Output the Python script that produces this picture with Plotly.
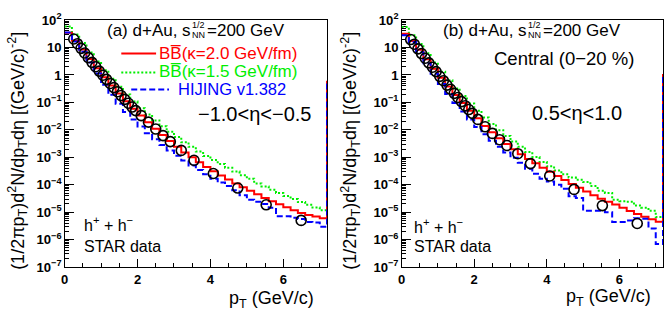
import plotly.graph_objects as go

W, H = 664, 317

# ---------------- data ----------------
pt_data = [0.25, 0.35, 0.45, 0.55, 0.65, 0.75, 0.85, 0.95, 1.05, 1.15,
           1.25, 1.35, 1.45, 1.55, 1.65, 1.75, 1.85, 1.95, 2.1, 2.3,
           2.5, 2.7, 2.9, 3.2, 3.55, 4.08, 4.75, 5.53, 6.49]

star_a = [2.04e1, 1.38e1, 9.33, 6.31, 4.27, 2.88, 2.00, 1.38, 9.77e-1, 6.92e-1,
          4.90e-1, 3.47e-1, 2.45e-1, 1.78e-1, 1.29e-1, 9.33e-2, 6.76e-2, 5.01e-2, 3.31e-2, 1.91e-2,
          1.07e-2, 6.17e-3, 3.72e-3, 1.78e-3, 7.76e-4, 2.57e-4, 7.59e-5, 1.86e-5, 5.01e-6]

star_b = [1.95e1, 1.32e1, 8.91, 6.03, 4.07, 2.75, 1.91, 1.32, 8.91e-1, 6.17e-1,
          4.27e-1, 3.02e-1, 2.14e-1, 1.51e-1, 1.07e-1, 7.59e-2, 5.50e-2, 3.98e-2, 2.40e-2, 1.29e-2,
          7.41e-3, 4.37e-3, 2.69e-3, 1.35e-3, 5.89e-4, 2.09e-4, 6.76e-5, 1.74e-5, 3.89e-6]

# histogram bin edges of the model curves (0 .. 7.2 GeV/c, 0.2 wide)
bin_edges = [round(0.2 * i, 1) for i in range(37)]

bbar20_a = [34.7, 17.8, 8.51, 3.80, 1.74, 8.32e-1, 4.17e-1, 2.09e-1, 1.10e-1, 5.89e-2,
            3.31e-2, 1.91e-2, 1.10e-2, 6.46e-3, 3.89e-3, 2.40e-3, 1.51e-3, 1.00e-3, 6.61e-4, 4.47e-4,
            3.09e-4, 2.19e-4, 1.55e-4, 1.12e-4, 8.13e-5, 6.03e-5, 4.47e-5, 3.31e-5, 2.51e-5, 1.95e-5,
            1.51e-5, 1.17e-5, 9.33e-6, 7.94e-6, 6.92e-6, 6.03e-6]
bbar15_a = [58.9, 29.5, 14.5, 6.61, 3.09, 1.48, 7.24e-1, 3.72e-1, 1.95e-1, 1.07e-1,
            6.17e-2, 3.63e-2, 2.19e-2, 1.35e-2, 8.51e-3, 5.50e-3, 3.55e-3, 2.40e-3, 1.62e-3, 1.12e-3,
            7.94e-4, 5.75e-4, 4.17e-4, 3.02e-4, 2.24e-4, 1.66e-4, 1.12e-4, 8.71e-5, 6.61e-5, 5.01e-5,
            3.89e-5, 3.02e-5, 2.34e-5, 1.86e-5, 1.48e-5, 1.17e-5]
hijing_a = [35.5, 16.6, 7.08, 2.82, 1.12, 4.37e-1, 1.91e-1, 8.91e-2, 4.47e-2, 2.40e-2,
            1.32e-2, 7.59e-3, 4.57e-3, 2.82e-3, 1.78e-3, 1.15e-3, 7.59e-4, 5.01e-4, 3.47e-4, 2.40e-4,
            1.66e-4, 1.20e-4, 8.91e-5, 6.31e-5, 4.17e-5, 2.82e-5, 2.40e-5, 2.00e-5, 1.45e-5, 7.08e-6,
            7.08e-6, 6.31e-6, 5.62e-6, 4.37e-6, 4.17e-6, 2.95e-6]

bbar20_b = [31.6, 17.4, 8.32, 3.72, 1.70, 7.94e-1, 3.80e-1, 1.86e-1, 9.55e-2, 5.01e-2,
            2.63e-2, 1.38e-2, 8.13e-3, 4.90e-3, 3.02e-3, 1.95e-3, 1.29e-3, 8.71e-4, 6.03e-4, 4.17e-4,
            2.95e-4, 2.09e-4, 1.48e-4, 1.07e-4, 7.76e-5, 5.62e-5, 4.17e-5, 3.09e-5, 2.40e-5, 1.91e-5,
            1.45e-5, 1.10e-5, 8.51e-6, 6.76e-6, 5.50e-6, 4.47e-6]
bbar15_b = [56.2, 28.2, 13.5, 6.17, 2.82, 1.32, 6.46e-1, 3.24e-1, 1.70e-1, 9.12e-2,
            5.01e-2, 2.82e-2, 1.62e-2, 9.77e-3, 6.03e-3, 3.80e-3, 2.40e-3, 1.55e-3, 1.02e-3, 6.76e-4,
            4.68e-4, 3.31e-4, 2.40e-4, 1.82e-4, 1.51e-4, 1.26e-4, 8.91e-5, 6.03e-5, 5.01e-5, 2.82e-5,
            2.51e-5, 2.40e-5, 1.74e-5, 1.45e-5, 1.12e-5, 6.61e-6]
hijing_b = [28.2, 15.8, 6.76, 2.69, 1.10, 4.68e-1, 2.04e-1, 9.55e-2, 4.68e-2, 2.40e-2,
            1.26e-2, 6.92e-3, 3.98e-3, 2.40e-3, 1.48e-3, 9.55e-4, 6.31e-4, 3.80e-4, 2.51e-4, 1.66e-4,
            1.32e-4, 1.00e-4, 7.08e-5, 3.80e-5, 3.31e-5, 1.12e-5, 1.12e-5, 1.12e-5, 1.00e-5, 4.37e-6,
            4.37e-6, 5.01e-6, 6.03e-6, 5.75e-6, 2.57e-6, 6.92e-7]

# content of the bin just past the plotted range (only its rising edge is visible)
overflow_a = 0.56
overflow_b = 1.0

x_range = [0, 7.2]
y_range_log = [-7, 2]

# ---------------- styling ----------------
FONT = "Liberation Sans"
RED, GREEN, BLUE = "#ff0000", "#00ee00", "#0000ff"

def px(x):
    return x / W

def py(y):
    return 1 - y / H

fig = go.Figure()

def add_hist(vals, overflow, color, dash, xa, ya):
    xs = bin_edges + [bin_edges[-1] + 0.2]
    ys = list(vals) + [overflow, overflow]
    fig.add_trace(go.Scatter(x=xs, y=ys, mode="lines", line_shape="hv",
                             line=dict(color=color, width=2, dash=dash),
                             xaxis=xa, yaxis=ya, showlegend=False, hoverinfo="skip"))

def add_data(vals, xa, ya):
    fig.add_trace(go.Scatter(x=pt_data, y=vals, mode="markers",
                             marker=dict(symbol="circle-open", size=10, color="black",
                                         line=dict(width=1.6, color="black")),
                             xaxis=xa, yaxis=ya, showlegend=False))

DOT = "2px,2px"
DASH = "6px,3px"
for (g, r, b, d, ovf, xa, ya) in [(bbar15_a, bbar20_a, hijing_a, star_a, overflow_a, "x", "y"),
                                  (bbar15_b, bbar20_b, hijing_b, star_b, overflow_b, "x2", "y2")]:
    add_hist(g, ovf, GREEN, DOT, xa, ya)
    add_hist(r, ovf, RED, "solid", xa, ya)
    add_hist(b, ovf, BLUE, DASH, xa, ya)
    add_data(d, xa, ya)

xaxis_common = dict(range=x_range, showline=True, mirror=True, linecolor="black", linewidth=1,
                    ticks="inside", ticklen=8, tickcolor="black", dtick=2, tick0=0,
                    showgrid=False, zeroline=False,
                    tickfont=dict(family=FONT, size=13, color="black", weight="bold"),
                    minor=dict(ticks="inside", ticklen=4, dtick=0.5, tickcolor="black", showgrid=False),
                    layer="below traces")
yaxis_common = dict(type="log", range=y_range_log, showline=True, mirror=True, linecolor="black",
                    linewidth=1, ticks="inside", ticklen=9, tickcolor="black", dtick=1,
                    exponentformat="power", showgrid=False, zeroline=False,
                    tickfont=dict(family=FONT, size=10.5, color="black", weight="bold"),
                    minor=dict(ticks="inside", ticklen=4, dtick="D1", tickcolor="black", showgrid=False),
                    layer="below traces")

ydom = [py(272.7), py(11.7)]
fig.update_layout(
    width=W, height=H, margin=dict(l=0, r=0, t=0, b=0),
    paper_bgcolor="white", plot_bgcolor="white",
    xaxis=dict(domain=[px(61), px(325)], anchor="y", **xaxis_common),
    yaxis=dict(domain=ydom, anchor="x", **yaxis_common),
    xaxis2=dict(domain=[px(400), px(663)], anchor="y2", **xaxis_common),
    yaxis2=dict(domain=ydom, anchor="x2", **yaxis_common),
    showlegend=False,
)

anns = []

def ann(text, x, y, size=17, color="black", xanchor="left", angle=0):
    anns.append(dict(text=text, x=px(x), y=py(y), xref="paper", yref="paper",
                     xanchor=xanchor, yanchor="middle", showarrow=False, textangle=angle,
                     borderpad=0, font=dict(family=FONT, size=size, color=color)))

ytitle = "(1/2πp<sub>T</sub>)d<sup>2</sup>N/dp<sub>T</sub>dη [(GeV/c)<sup>-2</sup>]"
xtitle = "p<sub>T</sub> (GeV/c)"
BB = "BB\u0305"

# panel (a)
ann(ytitle, 14, 150, size=18, xanchor="center", angle=-90)
ann(xtitle, 313, 307, size=18, xanchor="right")
ann("(a) d+Au, s", 189, 23, size=17, xanchor="right")
ann("1/2", 188, 17, size=9)
ann("NN", 188, 28, size=9)
ann("=200 GeV", 203, 23, size=17)
ann(BB + "(κ=2.0 GeV/fm)", 155, 47, size=17, color=RED)
ann(BB + "(κ=1.5 GeV/fm)", 155, 66, size=17, color=GREEN)
ann("HIJING v1.382", 174, 85, size=16.5, color=BLUE)
ann("−1.0&lt;η&lt;−0.5", 194, 111, size=20)
ann("h<sup>+</sup> + h<sup>−</sup>", 79, 227, size=16)
ann("STAR data", 79, 251, size=16)

# panel (b)
ann(ytitle, 349, 150, size=18, xanchor="center", angle=-90)
ann(xtitle, 652, 305, size=18, xanchor="right")
ann("(b) d+Au, s", 527, 23, size=17, xanchor="right")
ann("1/2", 526, 17, size=9)
ann("NN", 526, 28, size=9)
ann("=200 GeV", 541, 23, size=17)
ann("Central (0−20 %)", 492, 52, size=18.5)
ann("0.5&lt;η&lt;1.0", 530, 110, size=20)
ann("h<sup>+</sup> + h<sup>−</sup>", 411, 229, size=16)
ann("STAR data", 411, 251, size=16)

shapes = [
    dict(type="line", xref="paper", yref="paper", x0=px(118), x1=px(153), y0=py(47), y1=py(47),
         line=dict(color=RED, width=2)),
    dict(type="line", xref="paper", yref="paper", x0=px(118), x1=px(153), y0=py(67), y1=py(67),
         line=dict(color=GREEN, width=2, dash=DOT)),
    dict(type="line", xref="paper", yref="paper", x0=px(128), x1=px(166), y0=py(85), y1=py(85),
         line=dict(color=BLUE, width=2, dash=DASH)),
]

fig.update_layout(annotations=anns, shapes=shapes)
fig.write_html("out.html", config={"displayModeBar": False},
               post_script="document.body.style.margin='0';document.body.style.overflow='hidden';")
